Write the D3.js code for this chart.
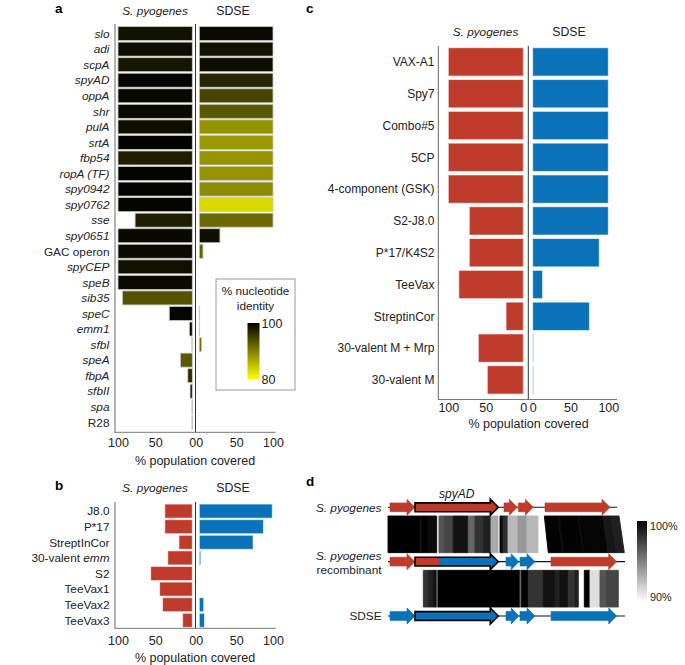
<!DOCTYPE html>
<html><head><meta charset="utf-8">
<script src="https://cdn.jsdelivr.net/npm/d3@7"></script>
<style>
body{margin:0;background:#fff}
svg{display:block}
text{font-family:"Liberation Sans",Arial,Helvetica,sans-serif;fill:#222}
</style>
</head><body>
<svg id="fig" width="685" height="665"></svg>
<script>
// ---------------- DATA ----------------
const tickValues = [100, 50, 0];

// panel a
const genesA = ["slo","adi","scpA","spyAD","oppA","shr","pulA","srtA","fbp54","ropA (TF)","spy0942","spy0762","sse","spy0651","GAC operon","spyCEP","speB","sib35","speC","emm1","sfbI","speA","fbpA","sfbII","spa","R28"];
const plainA = ["GAC operon","R28"];
const spyCoverA  = [100,100,100,100,100,100,100,100,100,100,100,100,77,100,100,100,100,94,31,4,0.7,16,6,3,0.5,0.5];
const sdseCoverA = [100,100,100,100,100,100,100,100,100,100,100,100,100,28,5,0,0,0,0.5,0.5,3,0,0,0,0,0];
const spyIdentA  = [98.6,99,98.2,99.6,99.3,99.3,98.8,99.8,97.6,99.7,99.6,99.6,97.6,99.3,99.2,98.7,99.2,93.5,99.5,99,86,93,96.8,98,96,96];
const sdseIdentA = [99.2,98.6,99,97,94.5,93,88.5,88,88.5,88.5,89,83,91.8,98.8,92,100,100,100,96,96,91.5,100,100,100,100,100];
const identLegend = [100, 80];

// panel b
const vaccinesB = ["J8.0","P*17","StreptInCor","30-valent emm","S2","TeeVax1","TeeVax2","TeeVax3"];
const spyCoverB  = [37,37,18,33,56,44,40,13];
const sdseCoverB = [99,87,73,2,0,0,6,7];

// panel c
const vaccinesC = ["VAX-A1","Spy7","Combo#5","5CP","4-component (GSK)","S2-J8.0","P*17/K4S2","TeeVax","StreptinCor","30-valent M + Mrp","30-valent M"];
const spyCoverC  = [100,100,100,100,100,72,72,86,23,60,48];
const sdseCoverC = [100,100,100,100,100,100,88,13,75,1,1];

// panel d (positions in bp along the locus)
const rowsD = ["S. pyogenes","S. pyogenes recombinant","SDSE"];
const locusEndD = [2290, 2370, 2370];
const genesD = [
  {row:0, start:20,   end:270,  sp:"spy"},
  {row:0, start:270,  end:1103, sp:"spy", main:true},
  {row:0, start:1160, end:1293, sp:"spy"},
  {row:0, start:1303, end:1453, sp:"spy"},
  {row:0, start:1570, end:2220, sp:"spy"},
  {row:1, start:20,   end:270,  sp:"spy"},
  {row:1, start:270,  end:1103, sp:"sdse", main:true, splitAt:513, sp2:"spy"},
  {row:1, start:1180, end:1310, sp:"sdse"},
  {row:1, start:1320, end:1470, sp:"sdse"},
  {row:1, start:1630, end:2287, sp:"spy"},
  {row:2, start:20,   end:270,  sp:"sdse"},
  {row:2, start:270,  end:1103, sp:"sdse", main:true},
  {row:2, start:1180, end:1310, sp:"sdse"},
  {row:2, start:1320, end:1470, sp:"sdse"},
  {row:2, start:1630, end:2287, sp:"sdse"}
];
// [topStart, topEnd, bottomStart, bottomEnd, % identity]
const band1D = [
  [0,320,0,320,100],[320,340,320,340,99.3],[340,400,340,400,100],[400,487,400,487,99.6],
  [510,563,510,563,96.7],[563,653,563,653,97.3],[653,803,653,803,99.3],[803,870,803,870,96],
  [870,953,870,953,98],[953,1030,953,1030,98.7],[1030,1100,1030,1100,93.3],
  [1120,1150,1120,1150,99.6],[1150,1200,1150,1200,98.2],[1200,1300,1200,1300,92.7],
  [1300,1390,1300,1390,94],[1390,1500,1390,1500,92.8],
  [1563,1700,1603,1745,99.9],[1700,1715,1745,1762,99.4],[1715,1900,1762,1950,99.9],
  [1900,1910,1950,1961,99.4],[1910,2150,1961,2200,99.8],[2150,2230,2200,2283,99.1],
  [2230,2310,2283,2363,98.8]
];
const band2D = [
  [353,403,353,403,98],[403,453,403,453,98.7],[453,490,453,490,99.3],[490,500,490,500,94],
  [500,1320,500,1320,100],[1320,1337,1320,1337,96],[1337,1403,1337,1403,100],
  [1403,1553,1403,1553,98],[1553,1670,1553,1670,99.3],[1670,1720,1670,1720,98.7],
  [1720,1803,1720,1803,99.3],[1803,1870,1803,1870,98],[1870,1903,1870,1903,98.7],
  [1963,2020,1963,2020,100],[2020,2120,2020,2120,91.3],[2120,2187,2120,2187,96.7],
  [2187,2303,2187,2303,97.3]
];
const identLegendD = [100, 90];

// ---------------- STYLE ----------------
const RED = "#bf3b2b", BLUE = "#0a72b8";
const spColor = {spy: RED, sdse: BLUE};
const identColor = d3.scaleLinear().domain([80,100]).range(["#ffff00","#000000"]).interpolate(d3.interpolateRgb).clamp(true);
const greyColor = d3.scaleLinear().domain([90,100]).range(["#ffffff","#000000"]).clamp(true);

const svg = d3.select("#fig");
const defs = svg.append("defs");

function panelLabel(t, x, y){
  svg.append("text").attr("x",x).attr("y",y).attr("font-size",13.5).attr("font-weight","bold").style("fill","#000").text(t);
}

function diverging(cfg){
  const g = svg.append("g");
  const n = cfg.cats.length;
  const y = d3.scaleBand().domain(cfg.cats).range(cfg.yRange).paddingInner(cfg.pad).paddingOuter(cfg.pad/2);
  const xl = d3.scaleLinear().domain([0,100]).range(cfg.leftRange);
  const xr = d3.scaleLinear().domain([0,100]).range(cfg.rightRange);
  const idx = d3.range(n);
  g.selectAll("rect.l").data(idx.filter(i=>cfg.left[i]>0)).join("rect").attr("class","l")
    .attr("x",i=>xl(cfg.left[i])).attr("width",i=>xl(0)-xl(cfg.left[i]))
    .attr("y",i=>y(cfg.cats[i])).attr("height",y.bandwidth())
    .attr("fill",i=>cfg.leftFill(i)).attr("stroke",cfg.stroke).attr("stroke-opacity",cfg.strokeOp)
    .attr("stroke-width",cfg.sw);
  g.selectAll("rect.r").data(idx.filter(i=>cfg.right[i]>0)).join("rect").attr("class","r")
    .attr("x",xr(0)).attr("width",i=>xr(cfg.right[i])-xr(0))
    .attr("y",i=>y(cfg.cats[i])).attr("height",y.bandwidth())
    .attr("fill",i=>cfg.rightFill(i)).attr("stroke",cfg.stroke).attr("stroke-opacity",cfg.strokeOp)
    .attr("stroke-width",cfg.sw);
  // axis lines
  g.append("line").attr("x1",cfg.axisX).attr("x2",cfg.axisX).attr("y1",cfg.axisTop).attr("y2",cfg.bottomY).attr("stroke","#666").attr("stroke-width",1);
  g.append("line").attr("x1",cfg.midX).attr("x2",cfg.midX).attr("y1",cfg.axisTop).attr("y2",cfg.bottomY).attr("stroke","#333").attr("stroke-width",1);
  g.append("line").attr("x1",cfg.axisX-0.5).attr("x2",cfg.bottomEnd).attr("y1",cfg.bottomY).attr("y2",cfg.bottomY).attr("stroke","#777").attr("stroke-width",1);
  // row labels
  const lab = g.selectAll("text.cat").data(cfg.cats).join("text").attr("class","cat")
    .attr("x",cfg.labelX).attr("y",d=>y(d)+y.bandwidth()/2).attr("dy","0.36em")
    .attr("text-anchor","end").attr("font-size",cfg.fs);
  lab.each(function(d){ cfg.labelFmt(d3.select(this), d); });
  // ticks
  [xl, xr].forEach(sc=>{
    const ax = g.append("g").attr("transform",`translate(0,${cfg.bottomY})`)
      .call(d3.axisBottom(sc).tickValues(tickValues).tickSize(0).tickPadding(cfg.tickPad).tickFormat(d3.format("d")));
    ax.select(".domain").remove();
    ax.selectAll("text").attr("font-size",12.5).style("fill","#222").attr("font-family",'"Liberation Sans",Arial,sans-serif');
  });
  g.append("text").attr("x",cfg.titleX).attr("y",cfg.titleY).attr("text-anchor","middle").attr("font-size",12.5).text("% population covered");
  // headers
  g.append("text").attr("x",cfg.hdrL).attr("y",cfg.hdrY).attr("text-anchor","middle").attr("font-size",cfg.hfs).attr("font-style","italic").text("S. pyogenes");
  g.append("text").attr("x",cfg.hdrR).attr("y",cfg.hdrY).attr("text-anchor","middle").attr("font-size",cfg.hfs+0.5).text("SDSE");
  return g;
}

// ---------- panel a ----------
panelLabel("a", 55, 13);
diverging({
  cats: genesA, left: spyCoverA, right: sdseCoverA,
  leftFill: i=>identColor(spyIdentA[i]), rightFill: i=>identColor(sdseIdentA[i]),
  stroke:"#c8c8c8", strokeOp:1, sw:0.8,
  yRange:[25.8,430.1], pad:0.1,
  leftRange:[192.3,118], rightRange:[199.3,273],
  axisX:115, midX:195.5, axisTop:24, bottomY:432.3, bottomEnd:275.7,
  labelX:109.5, fs:11.8,
  labelFmt:(s,d)=>{ s.text(d).attr("font-style", plainA.includes(d)?"normal":"italic"); },
  tickPad:6.2, titleX:195, titleY:465,
  hdrL:155, hdrR:233, hdrY:15, hfs:11.8
});
// legend a
{
  const lg = svg.append("g");
  lg.append("rect").attr("x",216).attr("y",279).attr("width",79).attr("height",111).attr("fill","#fff").attr("stroke","#999").attr("stroke-width",1);
  lg.append("text").attr("x",255.5).attr("y",295).attr("text-anchor","middle").attr("font-size",11.8).text("% nucleotide");
  lg.append("text").attr("x",255.5).attr("y",309.5).attr("text-anchor","middle").attr("font-size",11.8).text("identity");
  const gr = defs.append("linearGradient").attr("id","gA").attr("x1",0).attr("x2",0).attr("y1",0).attr("y2",1);
  const sc = d3.scaleLinear().domain(identLegend).range([323,379]);
  d3.range(0,1.001,0.1).forEach(t=>gr.append("stop").attr("offset",t).attr("stop-color",identColor(identLegend[0]+(identLegend[1]-identLegend[0])*t)));
  lg.append("rect").attr("x",247.5).attr("y",sc(100)).attr("width",12).attr("height",sc(80)-sc(100)).attr("fill","url(#gA)");
  lg.selectAll("text.tk").data(identLegend).join("text").attr("class","tk").attr("x",261.5).attr("y",d=>sc(d)).attr("dy","0.36em").attr("font-size",12.5).text(d=>d);
}

// ---------- panel b ----------
panelLabel("b", 55, 489.5);
diverging({
  cats: vaccinesB, left: spyCoverB, right: sdseCoverB,
  leftFill: ()=>RED, rightFill: ()=>BLUE,
  stroke:"#ffffff", strokeOp:0.6, sw:1,
  yRange:[503.3,628.1], pad:0.1,
  leftRange:[192.3,118], rightRange:[199.3,273],
  axisX:115, midX:195.5, axisTop:502, bottomY:628.3, bottomEnd:275.7,
  labelX:109.5, fs:11.8,
  labelFmt:(s,d)=>{ if(d==="30-valent emm"){ s.append("tspan").text("30-valent "); s.append("tspan").attr("font-style","italic").text("emm"); } else s.text(d); },
  tickPad:7.8, titleX:195, titleY:662,
  hdrL:155, hdrR:233, hdrY:492, hfs:11.8
});

// ---------- panel c ----------
panelLabel("c", 306, 13);
diverging({
  cats: vaccinesC, left: spyCoverC, right: sdseCoverC,
  leftFill: ()=>RED, rightFill: ()=>BLUE,
  stroke:"#ffffff", strokeOp:0.6, sw:1,
  yRange:[46,395.8], pad:0.11,
  leftRange:[523.3,448.3], rightRange:[532.7,608.3],
  axisX:438.3, midX:528.3, axisTop:46, bottomY:399.5, bottomEnd:617,
  labelX:434.5, fs:12,
  labelFmt:(s,d)=>{ s.text(d); },
  tickPad:3.6, titleX:528.5, titleY:427.5,
  hdrL:485.5, hdrR:569, hdrY:36, hfs:11.8
});

// ---------- panel d ----------
panelLabel("d", 306, 486);
{
  const g = svg.append("g");
  const x = d3.scaleLinear().domain([0,2380]).range([388,626]);
  const y = d3.scalePoint().domain(rowsD).range([507.3,616]);
  const yOf = r => y(rowsD[r]);
  // bands
  function band(data, r0, r1){
    const yt = yOf(r0)+8.7, yb = yOf(r1)-9;
    g.append("g").selectAll("path").data(data).join("path")
      .attr("d",d=>`M${x(d[0])},${yt}L${x(d[1])},${yt}L${x(d[3])},${yb}L${x(d[2])},${yb}Z`)
      .attr("fill",d=>greyColor(d[4])).attr("stroke",d=>greyColor(d[4])).attr("stroke-width",0.9)
      .attr("stroke-linejoin","round");
  }
  band(band1D,0,1);
  band(band2D,1,2);
  // backbone lines
  g.selectAll("line.bb").data(d3.range(rowsD.length)).join("line").attr("class","bb")
    .attr("x1",x(0)).attr("x2",r=>x(locusEndD[r])).attr("y1",r=>yOf(r)).attr("y2",r=>yOf(r))
    .attr("stroke","#111").attr("stroke-width",1.1);
  const arrow = (x0,x1,yy)=>{
    const h=4.4, H=8, L=Math.min(8,(x1-x0)*0.6);
    return `M${x0},${yy-h}L${x1-L},${yy-h}L${x1-L},${yy-H}L${x1},${yy}L${x1-L},${yy+H}L${x1-L},${yy+h}L${x0},${yy+h}Z`;
  };
  genesD.forEach((d,i)=>{
    const p = arrow(x(d.start),x(d.end),yOf(d.row));
    g.append("path").attr("d",p).attr("fill",spColor[d.sp]).attr("stroke",d.main?"none":spColor[d.sp]).attr("stroke-width",0.6);
    if(d.splitAt){
      defs.append("clipPath").attr("id","clip"+i).append("rect")
        .attr("x",x(d.start)-2).attr("y",yOf(d.row)-10).attr("width",x(d.splitAt)-x(d.start)+2).attr("height",20);
      g.append("path").attr("d",p).attr("fill",spColor[d.sp2]).attr("clip-path",`url(#clip${i})`);
    }
    if(d.main) g.append("path").attr("d",p).attr("fill","none").attr("stroke","#000").attr("stroke-width",1.6).attr("stroke-linejoin","miter");
  });
  // gene name
  const mainG = genesD.find(d=>d.main && d.row===0);
  g.append("text").attr("x",x((mainG.start+mainG.end)/2)).attr("y",yOf(0)-9).attr("text-anchor","middle")
    .attr("font-size",12).attr("font-style","italic").text("spyAD");
  // row labels
  const lx = 381.5;
  g.append("text").attr("x",lx).attr("y",yOf(0)).attr("dy","0.36em").attr("text-anchor","end").attr("font-size",11.8).attr("font-style","italic").text("S. pyogenes");
  g.append("text").attr("x",lx).attr("y",yOf(1)-6).attr("dy","0.36em").attr("text-anchor","end").attr("font-size",11.8).attr("font-style","italic").text("S. pyogenes");
  g.append("text").attr("x",lx).attr("y",yOf(1)+8.4).attr("dy","0.36em").attr("text-anchor","end").attr("font-size",11.8).text("recombinant");
  g.append("text").attr("x",lx).attr("y",yOf(2)).attr("dy","0.36em").attr("text-anchor","end").attr("font-size",11.8).text("SDSE");
  // grey legend
  const sc = d3.scaleLinear().domain(identLegendD).range([521,601.5]);
  const gr = defs.append("linearGradient").attr("id","gD").attr("x1",0).attr("x2",0).attr("y1",0).attr("y2",1);
  gr.append("stop").attr("offset",0).attr("stop-color",greyColor(identLegendD[0]));
  gr.append("stop").attr("offset",1).attr("stop-color",greyColor(identLegendD[1]));
  g.append("rect").attr("x",637).attr("y",sc(100)).attr("width",10).attr("height",sc(90)-sc(100)).attr("fill","url(#gD)");
  g.selectAll("text.tk").data(identLegendD).join("text").attr("class","tk")
    .attr("x",650).attr("y",(d,i)=>sc(d)+(i===0?5:-4)).attr("dy","0.36em")
    .attr("font-size",10.8).attr("font-family","DejaVu Sans, sans-serif").text(d=>d+"%");
}
</script>
</body></html>
